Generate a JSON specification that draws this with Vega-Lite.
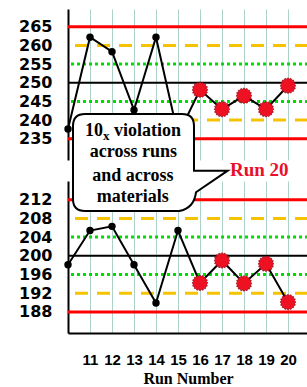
{
  "$schema": "https://vega.github.io/schema/vega-lite/v6.json",
  "background": "white",
  "padding": {"left": 18, "top": 9, "right": 0, "bottom": 0},
  "bounds": "flush",
  "spacing": 21,
  "config": {
    "view": {"stroke": null},
    "axis": {"gridColor": "#acd2ca", "gridWidth": 1, "gridOpacity": 1, "labelColor": "black", "titleColor": "black", "labelOverlap": false, "labelFlush": false, "labelBound": false},
    "axisX": {"labelFont": "Liberation Sans", "labelFontWeight": "bold", "labelFontSize": 15, "titleFont": "Liberation Serif", "titleFontWeight": "bold", "titleFontSize": 16},
    "axisY": {"labelFont": "DejaVu Sans", "labelFontWeight": "bold", "labelFontSize": 16, "labelPadding": 16, "domainColor": "black", "domainWidth": 2, "ticks": false, "tickSize": 0, "grid": false}
  },
  "datasets": {
    "top": [
      {"run": 10, "value": 237.6, "status": "ok"},
      {"run": 11, "value": 262.2, "status": "ok"},
      {"run": 12, "value": 258.3, "status": "ok"},
      {"run": 13, "value": 242.7, "status": "ok"},
      {"run": 14, "value": 262.2, "status": "ok"},
      {"run": 15, "value": 236.0, "status": "ok"},
      {"run": 16, "value": 248.1, "status": "violation"},
      {"run": 17, "value": 242.9, "status": "violation"},
      {"run": 18, "value": 246.5, "status": "violation"},
      {"run": 19, "value": 242.9, "status": "violation"},
      {"run": 20, "value": 249.2, "status": "violation"}
    ],
    "bottom": [
      {"run": 10, "value": 198.1, "status": "ok"},
      {"run": 11, "value": 205.4, "status": "ok"},
      {"run": 12, "value": 206.3, "status": "ok"},
      {"run": 13, "value": 198.1, "status": "ok"},
      {"run": 14, "value": 189.9, "status": "ok"},
      {"run": 15, "value": 205.4, "status": "ok"},
      {"run": 16, "value": 194.2, "status": "violation"},
      {"run": 17, "value": 199.0, "status": "violation"},
      {"run": 18, "value": 194.1, "status": "violation"},
      {"run": 19, "value": 198.3, "status": "violation"},
      {"run": 20, "value": 190.1, "status": "violation"}
    ],
    "limitsTop": [
      {"value": 265, "kind": "3SD"}, {"value": 235, "kind": "3SD"},
      {"value": 260, "kind": "2SD"}, {"value": 240, "kind": "2SD"},
      {"value": 255, "kind": "1SD"}, {"value": 245, "kind": "1SD"},
      {"value": 250, "kind": "mean"}
    ],
    "limitsBottom": [
      {"value": 212, "kind": "3SD"}, {"value": 188, "kind": "3SD"},
      {"value": 208, "kind": "2SD"}, {"value": 192, "kind": "2SD"},
      {"value": 204, "kind": "1SD"}, {"value": 196, "kind": "1SD"},
      {"value": 200, "kind": "mean"}
    ],
    "notes": [
      {"part": "callout", "label": "", "run": 13, "value": 220},
      {"part": "num", "label": "10", "run": 11.59, "value": 225.69},
      {"part": "sub", "label": "x", "run": 11.59, "value": 224.83},
      {"part": "word", "label": "violation", "run": 12.09, "value": 225.69},
      {"part": "center", "label": "across runs", "run": 12.97, "value": 221.07},
      {"part": "center", "label": "and across", "run": 12.95, "value": 216.06},
      {"part": "center", "label": "materials", "run": 12.94, "value": 211.45},
      {"part": "flag", "label": "Run 20", "run": 17.36, "value": 217.0}
    ]
  },
  "vconcat": [
    {
      "width": 240,
      "height": 151,
      "layer": [
        {
          "data": {"name": "limitsTop"},
          "transform": [{"filter": "datum.kind === '3SD'"}],
          "mark": {"type": "rule", "color": "#ff0000", "strokeWidth": 3},
          "encoding": {
            "y": {"field": "value", "type": "quantitative", "scale": {"domain": [229.3, 269.75], "nice": false, "zero": false}, "axis": {"values": [235, 240, 245, 250, 255, 260, 265], "tickCount": 20, "title": null, "labelOverlap": false}}
          }
        },
        {
          "data": {"name": "limitsTop"},
          "transform": [{"filter": "datum.kind === '2SD'"}],
          "mark": {"type": "rule", "color": "#f5c300", "strokeWidth": 3, "strokeDash": [13, 9]},
          "encoding": {"y": {"field": "value", "type": "quantitative", "scale": {"domain": [229.3, 269.75], "nice": false, "zero": false}}}
        },
        {
          "data": {"name": "limitsTop"},
          "transform": [{"filter": "datum.kind === '1SD'"}],
          "mark": {"type": "rule", "color": "#00dd00", "strokeWidth": 3, "strokeDash": [3, 3]},
          "encoding": {"y": {"field": "value", "type": "quantitative", "scale": {"domain": [229.3, 269.75], "nice": false, "zero": false}}}
        },
        {
          "data": {"name": "limitsTop"},
          "transform": [{"filter": "datum.kind === 'mean'"}],
          "mark": {"type": "rule", "color": "black", "strokeWidth": 2},
          "encoding": {"y": {"field": "value", "type": "quantitative", "scale": {"domain": [229.3, 269.75], "nice": false, "zero": false}}}
        },
        {
          "data": {"name": "top"},
          "mark": {"type": "line", "color": "black", "strokeWidth": 2},
          "encoding": {
            "x": {"field": "run", "type": "quantitative", "scale": {"domain": [10, 20.91], "nice": false, "zero": false}, "axis": {"values": [11, 12, 13, 14, 15, 16, 17, 18, 19, 20], "tickCount": 20, "labels": false, "ticks": false, "tickSize": 0, "domain": false, "grid": true, "title": null, "labelOverlap": false}},
            "y": {"field": "value", "type": "quantitative", "scale": {"domain": [229.3, 269.75], "nice": false, "zero": false}}
          }
        },
        {
          "data": {"name": "top"},
          "transform": [{"filter": "datum.status === 'ok'"}],
          "mark": {"type": "point", "shape": "circle", "filled": true, "color": "black", "opacity": 1, "size": 55},
          "encoding": {
            "x": {"field": "run", "type": "quantitative", "scale": {"domain": [10, 20.91], "nice": false, "zero": false}},
            "y": {"field": "value", "type": "quantitative", "scale": {"domain": [229.3, 269.75], "nice": false, "zero": false}}
          }
        },
        {
          "data": {"name": "top"},
          "transform": [{"filter": "datum.status === 'violation'"}],
          "mark": {"type": "point", "shape": "M1,0L0.824,0.164L0.924,0.383L0.698,0.467L0.707,0.707L0.467,0.698L0.383,0.924L0.164,0.824L0,1L-0.164,0.824L-0.383,0.924L-0.467,0.698L-0.707,0.707L-0.698,0.467L-0.924,0.383L-0.824,0.164L-1,0L-0.824,-0.164L-0.924,-0.383L-0.698,-0.467L-0.707,-0.707L-0.467,-0.698L-0.383,-0.924L-0.164,-0.824L0,-1L0.164,-0.824L0.383,-0.924L0.467,-0.698L0.707,-0.707L0.698,-0.467L0.924,-0.383L0.824,-0.164Z", "filled": true, "fill": "#ee1122", "stroke": "#8a0010", "strokeWidth": 0.6, "opacity": 1, "size": 256},
          "encoding": {
            "x": {"field": "run", "type": "quantitative", "scale": {"domain": [10, 20.91], "nice": false, "zero": false}},
            "y": {"field": "value", "type": "quantitative", "scale": {"domain": [229.3, 269.75], "nice": false, "zero": false}}
          }
        },
        {
          "mark": {"type": "rule", "color": "black", "strokeWidth": 2},
          "encoding": {"y": {"datum": 269.75, "type": "quantitative", "scale": {"domain": [229.3, 269.75], "nice": false, "zero": false}}}
        },
        {
          "mark": {"type": "rule", "color": "black", "strokeWidth": 2},
          "encoding": {"y": {"datum": 229.3, "type": "quantitative", "scale": {"domain": [229.3, 269.75], "nice": false, "zero": false}}}
        }
      ]
    },
    {
      "width": 240,
      "height": 152,
      "layer": [
        {
          "data": {"name": "limitsBottom"},
          "transform": [{"filter": "datum.kind === '3SD'"}],
          "mark": {"type": "rule", "color": "#ff0000", "strokeWidth": 3},
          "encoding": {
            "y": {"field": "value", "type": "quantitative", "scale": {"domain": [183.5, 216], "nice": false, "zero": false}, "axis": {"values": [188, 192, 196, 200, 204, 208, 212], "tickCount": 20, "title": null, "labelOverlap": false}}
          }
        },
        {
          "data": {"name": "limitsBottom"},
          "transform": [{"filter": "datum.kind === '2SD'"}],
          "mark": {"type": "rule", "color": "#f5c300", "strokeWidth": 3, "strokeDash": [13, 9]},
          "encoding": {"y": {"field": "value", "type": "quantitative", "scale": {"domain": [183.5, 216], "nice": false, "zero": false}}}
        },
        {
          "data": {"name": "limitsBottom"},
          "transform": [{"filter": "datum.kind === '1SD'"}],
          "mark": {"type": "rule", "color": "#00dd00", "strokeWidth": 3, "strokeDash": [3, 3]},
          "encoding": {"y": {"field": "value", "type": "quantitative", "scale": {"domain": [183.5, 216], "nice": false, "zero": false}}}
        },
        {
          "data": {"name": "limitsBottom"},
          "transform": [{"filter": "datum.kind === 'mean'"}],
          "mark": {"type": "rule", "color": "black", "strokeWidth": 2},
          "encoding": {"y": {"field": "value", "type": "quantitative", "scale": {"domain": [183.5, 216], "nice": false, "zero": false}}}
        },
        {
          "data": {"name": "bottom"},
          "mark": {"type": "line", "color": "black", "strokeWidth": 2},
          "encoding": {
            "x": {"field": "run", "type": "quantitative", "scale": {"domain": [10, 20.91], "nice": false, "zero": false}, "axis": {"values": [11, 12, 13, 14, 15, 16, 17, 18, 19, 20], "tickCount": 20, "format": "d", "labels": true, "labelOverlap": false, "labelPadding": 19, "ticks": false, "tickSize": 0, "domain": true, "domainColor": "black", "domainWidth": 2, "grid": true, "title": "Run Number", "titlePadding": 3}},
            "y": {"field": "value", "type": "quantitative", "scale": {"domain": [183.5, 216], "nice": false, "zero": false}}
          }
        },
        {
          "data": {"name": "bottom"},
          "transform": [{"filter": "datum.status === 'ok'"}],
          "mark": {"type": "point", "shape": "circle", "filled": true, "color": "black", "opacity": 1, "size": 55},
          "encoding": {
            "x": {"field": "run", "type": "quantitative", "scale": {"domain": [10, 20.91], "nice": false, "zero": false}},
            "y": {"field": "value", "type": "quantitative", "scale": {"domain": [183.5, 216], "nice": false, "zero": false}}
          }
        },
        {
          "data": {"name": "bottom"},
          "transform": [{"filter": "datum.status === 'violation'"}],
          "mark": {"type": "point", "shape": "M1,0L0.824,0.164L0.924,0.383L0.698,0.467L0.707,0.707L0.467,0.698L0.383,0.924L0.164,0.824L0,1L-0.164,0.824L-0.383,0.924L-0.467,0.698L-0.707,0.707L-0.698,0.467L-0.924,0.383L-0.824,0.164L-1,0L-0.824,-0.164L-0.924,-0.383L-0.698,-0.467L-0.707,-0.707L-0.467,-0.698L-0.383,-0.924L-0.164,-0.824L0,-1L0.164,-0.824L0.383,-0.924L0.467,-0.698L0.707,-0.707L0.698,-0.467L0.924,-0.383L0.824,-0.164Z", "filled": true, "fill": "#ee1122", "stroke": "#8a0010", "strokeWidth": 0.6, "opacity": 1, "size": 256},
          "encoding": {
            "x": {"field": "run", "type": "quantitative", "scale": {"domain": [10, 20.91], "nice": false, "zero": false}},
            "y": {"field": "value", "type": "quantitative", "scale": {"domain": [183.5, 216], "nice": false, "zero": false}}
          }
        },
        {
          "data": {"name": "notes"},
          "transform": [{"filter": "datum.part === 'callout'"}],
          "mark": {"type": "point", "shape": "M-0.49,-0.483L0.48,-0.483Q0.6,-0.483,0.6,-0.363L0.6,0.084L0.937,0.084L0.62,0.3Q0.6,0.46,0.45,0.487L-0.49,0.487Q-0.61,0.487,-0.61,0.367L-0.61,-0.363Q-0.61,-0.483,-0.49,-0.483Z", "filled": true, "fill": "white", "stroke": "black", "strokeWidth": 2, "opacity": 1, "size": 40000},
          "encoding": {
            "x": {"field": "run", "type": "quantitative", "scale": {"domain": [10, 20.91], "nice": false, "zero": false}},
            "y": {"field": "value", "type": "quantitative", "scale": {"domain": [183.5, 216], "nice": false, "zero": false}}
          }
        },
        {
          "data": {"name": "notes"},
          "transform": [{"filter": "datum.part === 'center'"}],
          "mark": {"type": "text", "font": "Liberation Serif", "fontWeight": "bold", "fontSize": 18, "color": "black", "align": "center", "baseline": "alphabetic"},
          "encoding": {
            "x": {"field": "run", "type": "quantitative", "scale": {"domain": [10, 20.91], "nice": false, "zero": false}},
            "y": {"field": "value", "type": "quantitative", "scale": {"domain": [183.5, 216], "nice": false, "zero": false}},
            "text": {"field": "label"}
          }
        },
        {
          "data": {"name": "notes"},
          "transform": [{"filter": "datum.part === 'num'"}],
          "mark": {"type": "text", "font": "Liberation Serif", "fontWeight": "bold", "fontSize": 18, "color": "black", "align": "right", "baseline": "alphabetic"},
          "encoding": {
            "x": {"field": "run", "type": "quantitative", "scale": {"domain": [10, 20.91], "nice": false, "zero": false}},
            "y": {"field": "value", "type": "quantitative", "scale": {"domain": [183.5, 216], "nice": false, "zero": false}},
            "text": {"field": "label"}
          }
        },
        {
          "data": {"name": "notes"},
          "transform": [{"filter": "datum.part === 'sub'"}],
          "mark": {"type": "text", "font": "Liberation Serif", "fontWeight": "bold", "fontSize": 13, "color": "black", "align": "left", "baseline": "alphabetic"},
          "encoding": {
            "x": {"field": "run", "type": "quantitative", "scale": {"domain": [10, 20.91], "nice": false, "zero": false}},
            "y": {"field": "value", "type": "quantitative", "scale": {"domain": [183.5, 216], "nice": false, "zero": false}},
            "text": {"field": "label"}
          }
        },
        {
          "data": {"name": "notes"},
          "transform": [{"filter": "datum.part === 'word'"}],
          "mark": {"type": "text", "font": "Liberation Serif", "fontWeight": "bold", "fontSize": 18, "color": "black", "align": "left", "baseline": "alphabetic"},
          "encoding": {
            "x": {"field": "run", "type": "quantitative", "scale": {"domain": [10, 20.91], "nice": false, "zero": false}},
            "y": {"field": "value", "type": "quantitative", "scale": {"domain": [183.5, 216], "nice": false, "zero": false}},
            "text": {"field": "label"}
          }
        },
        {
          "data": {"name": "notes"},
          "transform": [{"filter": "datum.part === 'flag'"}],
          "mark": {"type": "text", "font": "Liberation Serif", "fontWeight": "bold", "fontSize": 19, "color": "#e8102c", "align": "left", "baseline": "alphabetic"},
          "encoding": {
            "x": {"field": "run", "type": "quantitative", "scale": {"domain": [10, 20.91], "nice": false, "zero": false}},
            "y": {"field": "value", "type": "quantitative", "scale": {"domain": [183.5, 216], "nice": false, "zero": false}},
            "text": {"field": "label"}
          }
        }
      ]
    }
  ]
}
